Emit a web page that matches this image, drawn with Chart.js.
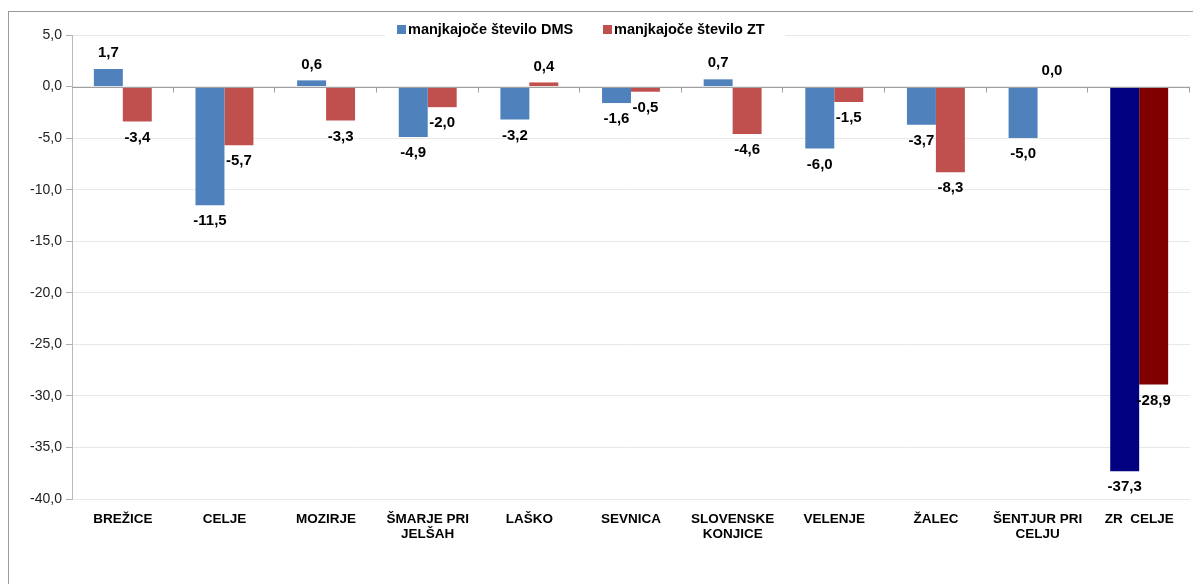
<!DOCTYPE html>
<html>
<head>
<meta charset="utf-8">
<script src="https://cdn.jsdelivr.net/npm/chart.js@4"></script>
<style>
  html, body { margin: 0; padding: 0; background: #fff; }
  #wrap { width: 1193px; height: 584px; }
</style>
</head>
<body>
<div id="wrap"><canvas id="chart" width="1193" height="584"></canvas></div>
<script>
const categories = [
    'BREŽICE', 'CELJE', 'MOZIRJE', ['ŠMARJE PRI', 'JELŠAH'], 'LAŠKO', 'SEVNICA',
    ['SLOVENSKE', 'KONJICE'], 'VELENJE', 'ŽALEC', ['ŠENTJUR PRI', 'CELJU'], 'ZR  CELJE'
];
const seriesNames = ['manjkajoče število DMS', 'manjkajoče število ZT'];
const dmsValues = [1.7, -11.5, 0.6, -4.9, -3.2, -1.6, 0.7, -6.0, -3.7, -5.0, -37.3];
const ztValues = [-3.4, -5.7, -3.3, -2.0, 0.4, -0.5, -4.6, -1.5, -8.3, 0.0, -28.9];
const yTicks = [5, 0, -5, -10, -15, -20, -25, -30, -35, -40];

const blue = '#4F81BD', red = '#C0504D';
const navy = '#000080', maroon = '#800000';
const totalIdx = categories.length - 1;

const fmt = v => v.toFixed(1).replace('.', ',');

// frame, zero line with ticks, custom legend and value labels
const extras = {
    id: 'extras',
    beforeDraw(chart) {
        const ctx = chart.ctx;
        ctx.save();
        ctx.strokeStyle = '#9a9a9a';
        ctx.lineWidth = 1;
        ctx.strokeRect(8.5, 11.5, 1400, 800);
        ctx.restore();
    },
    afterDatasetsDraw(chart) {
        const ctx = chart.ctx;
        const area = chart.chartArea;
        const y0 = Math.round(chart.scales.y.getPixelForValue(0)) + 0.5;
        ctx.save();
        ctx.strokeStyle = '#a0a0a0';
        ctx.lineWidth = 1;
        ctx.beginPath();
        ctx.moveTo(area.left, y0);
        ctx.lineTo(area.right, y0);
        const step = (area.right - area.left) / categories.length;
        for (let i = 1; i <= categories.length; i++) {
            const x = Math.round(area.left + step * i) - 0.5;
            ctx.moveTo(x, y0);
            ctx.lineTo(x, y0 + 5);
        }
        ctx.stroke();

        // value labels
        ctx.fillStyle = '#000';
        ctx.font = 'bold 15px "Liberation Sans", Arial, sans-serif';
        ctx.textAlign = 'center';
        ctx.textBaseline = 'middle';
        chart.data.datasets.forEach((ds, di) => {
            const meta = chart.getDatasetMeta(di);
            meta.data.forEach((bar, i) => {
                const v = ds.data[i];
                const y = v >= 0 ? bar.y - 16 : bar.y + 16;
                ctx.fillText(fmt(v), bar.x, y);
            });
        });

        // legend
        ctx.fillStyle = '#fff';
        ctx.fillRect(385, 20, 400, 20);
        ctx.font = 'bold 14.5px "Liberation Sans", Arial, sans-serif';
        ctx.textAlign = 'left';
        const items = [[seriesNames[0], blue, 397], [seriesNames[1], red, 603]];
        items.forEach(([name, col, x]) => {
            ctx.fillStyle = col;
            ctx.fillRect(x, 25, 9, 9);
            ctx.fillStyle = '#000';
            ctx.fillText(name, x + 11, 30);
        });
        ctx.restore();
    }
};

new Chart(document.getElementById('chart'), {
    type: 'bar',
    data: {
        labels: categories,
        datasets: [
            {
                label: seriesNames[0],
                data: dmsValues,
                backgroundColor: dmsValues.map((v, i) => i === totalIdx ? navy : blue)
            },
            {
                label: seriesNames[1],
                data: ztValues,
                backgroundColor: ztValues.map((v, i) => i === totalIdx ? maroon : red)
            }
        ]
    },
    plugins: [extras],
    options: {
        responsive: false,
        animation: false,
        layout: { padding: { top: 35, right: 3, bottom: 0, left: 0 } },
        datasets: {
            bar: { categoryPercentage: 0.57, barPercentage: 1.0 }
        },
        plugins: {
            legend: { display: false },
            tooltip: { enabled: false }
        },
        scales: {
            x: {
                grid: { display: false },
                border: { display: false },
                ticks: {
                    color: '#000',
                    padding: 5,
                    maxRotation: 0,
                    autoSkip: false,
                    font: { family: '"Liberation Sans", Arial, sans-serif', size: 13.5, weight: 'bold', lineHeight: 1.12 }
                },
                afterFit(scale) { scale.height = 85; }
            },
            y: {
                min: -40,
                max: 5,
                afterBuildTicks(scale) { scale.ticks = yTicks.map(v => ({ value: v })); },
                grid: {
                    color: '#e8e8e8',
                    tickColor: '#b0b0b0',
                    tickLength: 6
                },
                border: { color: '#b8b8b8' },
                ticks: {
                    color: '#222',
                    padding: 4,
                    font: { family: '"Liberation Sans", Arial, sans-serif', size: 14 },
                    callback: v => fmt(v)
                },
                afterFit(scale) { scale.width = 72; }
            }
        }
    }
});
</script>
</body>
</html>
